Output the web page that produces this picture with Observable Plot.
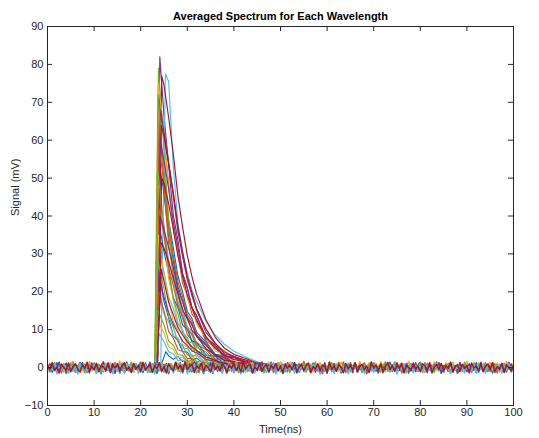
<!DOCTYPE html>
<html>
<head>
<meta charset="utf-8">
<script src="https://cdn.jsdelivr.net/npm/d3@7"></script>
<script src="https://cdn.jsdelivr.net/npm/@observablehq/plot@0.6"></script>
<style>
  html, body { margin: 0; padding: 0; background: #fff; }
  #chart { width: 539px; height: 438px; }
</style>
</head>
<body>
<div id="chart"></div>
<script>
// ---- Labels & ticks ----
const title = "Averaged Spectrum for Each Wavelength";
const xLabel = "Time(ns)";
const yLabel = "Signal (mV)";
const xTicks = [0, 10, 20, 30, 40, 50, 60, 70, 80, 90, 100];
const yTicks = [-10, 0, 10, 20, 30, 40, 50, 60, 70, 80, 90];
const colors = ["#0072BD", "#D95319", "#EDB120", "#7E2F8E", "#77AC30", "#4DBEEE", "#A2142F"];

// ---- Pulse traces (one per wavelength) ----
const baseline = 0;
const onsets = [23.2,23.2,23.3,23.3,23.1,24.3,23.5, 23.2,23.3,23.1,23.4,23.0,23.2,23.5, 23.2,23.2,23.1,23.3,23.0,23.3,23.6,
                23.3,23.2,23.1,23.4,23.0,23.4,23.6, 24.2,23.2,23.1,23.4,23.0,23.3,23.5];
const peakTimes = [24.0,23.9,24.2,24.1,23.8,25.3,24.5, 23.9,24.0,23.8,24.3,23.7,23.9,24.4, 23.9,24.0,23.8,24.2,23.7,24.0,24.5,
                   24.0,23.9,23.8,24.2,23.7,24.1,24.4, 25.4,23.9,23.8,24.3,23.7,24.0,24.4];
const peakValues = [62,74,70,82,79,77.5,77, 55,66,75,68,72,45,64, 38,58,48,60,52,30,50,
                    25,42,35,40,28,18,33, 4.2,20,12,22,15,9,26];
const decayTimes = [25, 26, 27, 28, 29, 30, 31, 32, 34, 36, 38, 40, 43, 46, 50];
const decayValues = [
  [51.5,38.9,31.6,24.1,19.9,14.8,13.0,9.3,6.8,3.5,3.1,1.2,1.4,-0.2,0.6],
  [60.1,48.2,36.4,30.3,22.2,19.1,14.1,12.5,7.0,5.4,2.4,2.7,0.6,1.1,-0.3],
  [63.6,53.9,46.2,35.7,30.1,23.1,19.6,14.8,10.4,5.7,4.5,2.2,2.0,0.3,0.9],
  [66.5,53.2,40.3,33.5,24.8,21.2,15.7,13.8,7.6,5.9,2.7,2.9,0.7,1.2,0.1],
  [57.5,38.8,29.0,19.9,15.6,10.5,8.5,5.3,4.1,1.5,1.7,0.3,0.8,-0.3,0.4],
  [null,75.5,53.0,38.0,30.5,25.0,20.5,17.5,12.2,8.6,6.1,4.3,2.6,1.0,0.7],
  [74.5,66.0,56.3,45.1,37.0,29.6,24.0,19.4,12.6,8.0,5.1,3.5,2.2,0.7,0.6],
  [45.8,34.6,28.1,21.3,17.6,13.1,11.6,8.2,5.9,3.0,2.7,1.0,1.3,0.2,-0.4],
  [48.1,32.4,24.4,16.6,13.1,8.7,7.2,4.4,3.5,1.2,1.5,0.2,0.9,-0.1,0.5],
  [62.2,47.3,38.1,29.4,23.9,18.2,15.7,11.4,8.1,4.3,3.6,1.6,1.5,0.1,0.4],
  [62.0,54.0,45.1,36.0,29.2,23.3,18.9,15.3,9.3,6.4,3.6,3.0,1.3,1.1,0.2],
  [51.2,36.6,25.3,19.3,13.1,10.7,6.6,6.0,2.7,2.3,0.6,1.2,0.2,0.5,-0.3],
  [37.5,28.2,23.1,17.4,14.6,10.7,9.6,6.6,5.1,2.4,2.3,0.8,1.0,0.4,0.1],
  [61.0,53.8,46.1,37.2,30.5,24.0,19.8,15.6,10.2,6.4,4.1,2.9,1.8,0.6,0.5],
  [30.6,24.9,18.4,15.8,11.2,10.1,7.0,6.7,3.3,3.0,1.0,1.6,0.4,0.8,-0.3],
  [48.2,36.5,29.6,22.6,18.6,13.9,12.2,8.7,6.3,3.2,2.9,1.1,1.3,0.2,0.5],
  [35.2,23.4,17.9,11.9,9.7,6.1,5.4,3.0,2.7,0.7,1.2,0.1,0.6,-0.2,0.3],
  [54.5,47.2,38.4,31.8,24.6,20.9,15.8,13.6,8.0,5.8,3.0,2.7,1.0,1.0,-0.1],
  [36.8,26.6,18.1,14.1,9.3,7.9,4.6,4.5,1.8,1.8,0.3,0.7,-0.2,0.4,0.1],
  [25.2,18.6,15.6,11.4,9.9,6.9,6.6,4.2,3.6,1.4,1.8,0.3,0.9,-0.3,0.2],
  [48.6,43.2,36.5,29.4,24.1,19.2,15.8,12.4,8.2,5.0,3.3,2.1,1.5,0.3,0.5],
  [17.4,13.1,8.4,7.1,4.2,4.1,1.9,2.5,0.6,1.1,-0.2,0.5,0.1,-0.3,0.2],
  [35.0,26.3,21.6,16.2,13.6,9.9,9.0,6.1,4.8,2.1,2.3,0.6,1.1,0.2,-0.2],
  [24.6,18.1,12.0,9.7,6.1,5.5,2.9,3.2,1.0,1.4,0.2,0.6,-0.3,0.3,0.1],
  [36.5,31.6,26.5,20.5,17.3,13.2,11.2,8.5,6.0,3.3,2.6,1.2,1.2,0.2,0.4],
  [20.8,13.4,10.7,6.7,5.9,3.3,3.4,1.5,1.8,0.2,0.8,-0.1,0.4,0.0,0.2],
  [14.2,12.1,8.4,7.8,5.0,5.1,3.0,3.5,1.2,1.7,0.2,0.9,0.1,0.3,-0.2],
  [31.5,27.9,23.6,19.4,15.2,12.8,9.9,8.3,5.0,3.4,1.9,1.6,0.5,0.6,0.1],
  [null,3.1,2.2,2.9,1.6,1.9,0.7,1.2,0.3,0.8,-0.2,0.4,0.0,0.3,-0.1],
  [14.9,9.5,7.8,4.7,4.3,2.3,2.5,1.0,1.3,0.1,0.6,-0.2,0.3,0.1,0.0],
  [9.1,5.5,4.8,2.6,2.8,1.2,1.6,0.4,0.7,-0.1,0.3,0.0,0.2,-0.1,0.0],
  [18.6,14.6,11.4,9.2,7.0,5.8,4.4,3.9,2.2,1.6,0.8,0.7,0.2,0.3,0.0],
  [11.3,7.0,5.9,3.4,3.3,1.6,1.9,0.6,0.9,0.1,0.4,-0.1,0.2,0.0,0.0],
  [6.8,4.2,3.6,1.9,2.0,0.8,1.1,0.3,0.5,-0.1,0.3,0.0,0.1,0.0,0.0],
  [22.8,17.2,13.9,10.6,8.6,6.8,5.5,4.5,2.8,1.9,1.1,0.9,0.3,0.4,0.0]
];

// ---- Baseline noise band (0.5 ns samples), hand-estimated ----
const noiseTimes = d3.range(0, 100.25, 0.5);
const noiseBlue = [0.3,-1.1,0.8,-0.4,1.3,-0.9,0.1,1.0,-1.5,0.6,-0.2,0.9,-1.2,0.4,1.4,-0.7,0.2,-1.3,0.7,-0.1,
1.1,-0.8,0.5,-1.6,0.9,0.0,-0.6,1.2,-1.0,0.3,0.8,-1.4,0.6,-0.3,1.5,-0.8,0.2,-1.1,1.0,-0.5,
0.4,-1.3,1.2,-0.2,0.7,-0.9,1.3,-1.5,0.1,0.9,-0.6,1.1,-1.2,0.5,-0.1,1.4,-0.9,0.3,-1.4,0.8,
-0.3,1.0,-1.1,0.6,1.2,-0.7,0.2,-1.6,0.9,-0.4,1.3,-0.8,0.4,-1.0,1.1,-0.2,0.6,-1.3,0.8,0.1,
-0.9,1.5,-0.5,0.3,-1.2,0.7,-0.1,1.0,-1.4,0.5,1.2,-0.6,0.2,-1.1,0.9,-0.3,1.4,-1.0,0.4,-0.7,
1.1,-1.5,0.6,0.0,-0.8,1.3,-0.4,0.8,-1.2,0.3,1.0,-0.9,0.5,-1.3,1.2,-0.2,0.7,-1.1,0.2,0.9,
-0.6,1.4,-1.0,0.4,-0.3,1.1,-1.4,0.6,0.1,-0.8,1.3,-0.5,0.9,-1.2,0.3,-0.1,1.0,-1.6,0.7,-0.4,
1.2,-0.9,0.2,1.0,-1.3,0.5,-0.6,1.4,-0.2,0.8,-1.1,0.3,1.1,-0.7,0.4,-1.4,0.9,-0.3,1.3,-1.0,
0.6,0.0,-1.2,1.1,-0.5,0.7,-0.9,1.5,-0.4,0.2,-1.3,0.8,-0.1,1.0,-0.8,0.5,-1.5,1.2,-0.6,0.3,
-1.0,0.9,0.1,-0.7,1.3,-1.2,0.4,-0.2,1.1,-0.9,0.6,-1.4,0.8,0.2,-0.5,1.0,-1.1,0.3,1.4,-0.8,0.5];
const noiseOrange = [-0.7,0.9,-0.2,1.3,-1.0,0.4,-1.4,0.8,0.1,-0.6,1.2,-0.9,0.5,-1.3,1.0,-0.1,0.7,-1.1,1.4,-0.4,
0.2,-1.5,0.9,-0.3,1.1,-0.8,0.6,-1.2,0.3,1.3,-0.7,0.0,1.0,-1.4,0.5,-0.2,1.2,-1.0,0.7,-0.5,
1.5,-0.9,0.2,-1.3,0.8,-0.4,1.1,-0.6,0.4,-1.1,0.9,0.1,-1.6,1.0,-0.3,0.6,-0.8,1.3,-1.2,0.3,
0.7,-1.0,1.4,-0.5,0.2,-1.3,0.9,-0.1,1.1,-0.7,0.5,-1.4,1.2,-0.2,0.8,-1.1,0.4,-0.6,1.3,-0.9,
0.1,1.0,-1.2,0.6,-0.4,1.5,-0.8,0.3,-1.5,0.9,-0.1,1.2,-1.0,0.5,0.2,-0.9,1.1,-1.3,0.7,-0.3,
1.4,-0.6,0.0,-1.1,0.8,-0.5,1.3,-1.4,0.4,0.9,-0.7,1.0,-0.2,-1.2,0.6,1.1,-0.9,0.3,-1.6,0.8,
-0.4,1.2,-1.0,0.5,-0.1,1.4,-0.8,0.2,-1.3,0.9,0.4,-0.6,1.1,-1.1,0.7,-0.3,1.3,-1.5,0.5,0.1,
-0.8,1.0,-1.2,0.6,-0.2,1.5,-0.9,0.3,-1.0,1.2,-0.5,0.8,-1.4,0.4,0.0,-0.7,1.1,-1.1,0.9,-0.3,
0.6,-1.3,1.3,-0.6,0.2,-1.0,0.9,-0.4,1.2,-1.2,0.5,0.1,-0.9,1.4,-0.7,0.3,-1.5,1.0,-0.2,0.7,
-1.1,0.8,-0.5,1.1,-1.3,0.4,0.2,-0.8,1.3,-1.0,0.6,-0.3,1.0,-1.4,0.9,-0.1,0.5,-1.2,1.2,-0.6,0.3];
const noiseYellow = [0.9,-0.4,1.4,0.2,-0.8,1.1,0.5,-1.2,1.3,-0.1,0.7,1.6,-0.6,0.3,1.0,-1.0,0.8,0.1,1.5,-0.5,
0.4,1.2,-0.9,0.6,1.4,-0.3,0.0,1.1,-1.3,0.9,0.5,1.7,-0.7,0.2,1.0,-0.4,1.3,-1.1,0.7,0.3,
1.5,-0.6,0.8,-0.2,1.2,0.4,-1.0,1.0,0.1,1.4,-0.8,0.6,1.1,-0.5,0.3,1.6,-0.9,0.9,-0.1,1.3,
0.2,-1.2,1.0,0.7,-0.4,1.5,-0.7,0.4,1.2,-0.2,0.8,-1.1,1.4,0.1,-0.6,1.1,0.5,-0.9,1.3,0.3,
-0.3,1.6,-0.8,0.6,1.0,-1.3,0.9,0.2,1.4,-0.5,0.7,-0.1,1.2,-1.0,0.5,1.5,-0.4,0.3,1.1,-0.7,
1.3,0.0,-1.1,0.8,1.4,-0.3,0.6,-0.9,1.2,0.4,1.7,-0.6,0.1,1.0,-1.2,0.9,0.3,1.3,-0.5,0.7,
-0.2,1.5,-0.8,0.5,1.1,-1.0,1.4,0.2,-0.4,1.2,0.6,-1.3,1.0,0.0,1.6,-0.7,0.8,-0.1,1.3,-0.9,
0.4,1.1,-0.5,1.5,0.2,-1.1,0.9,0.6,-0.3,1.4,-0.8,0.7,1.2,-0.2,0.3,1.6,-1.0,1.0,0.1,-0.6,
1.3,0.5,-1.2,0.8,1.1,-0.4,1.5,-0.7,0.4,0.9,-0.1,1.2,-1.1,0.6,1.4,0.0,-0.8,1.1,0.3,-0.5,
1.6,-0.9,0.7,1.0,-0.3,1.3,0.2,-1.0,0.9,0.5,1.4,-0.6,0.1,1.2,-1.2,0.8,0.4,1.5,-0.4,0.6,1.0];
const noisePurple = [-0.3,1.0,-1.2,0.6,-0.5,1.4,-0.8,0.2,1.1,-1.3,0.7,-0.1,0.9,-1.0,0.4,1.3,-0.7,0.0,-1.4,1.2,
-0.4,0.8,-1.1,0.5,1.5,-0.9,0.3,-0.6,1.1,-1.5,0.9,0.1,-0.8,1.3,-0.2,0.6,-1.2,1.0,-0.5,0.4,
1.2,-1.0,0.7,-0.3,1.4,-1.3,0.2,0.8,-0.7,1.1,-0.1,0.5,-1.4,0.9,-0.6,1.3,0.3,-1.1,0.7,-0.2,
1.0,-0.9,0.4,1.5,-1.2,0.6,-0.4,1.2,-0.8,0.1,0.9,-1.5,1.1,-0.3,0.5,-1.0,1.4,-0.6,0.2,0.8,
-1.3,1.0,-0.1,0.6,-0.9,1.3,-0.5,0.3,-1.2,1.1,0.4,-0.7,1.5,-1.1,0.2,0.7,-0.4,1.2,-1.4,0.5,
-0.2,0.9,-1.0,1.3,-0.6,0.1,1.1,-1.3,0.8,-0.3,1.4,-0.9,0.4,-0.5,1.0,-1.2,0.6,0.2,-0.8,1.3,
-1.5,0.7,-0.1,1.1,-0.7,0.5,-1.1,1.4,-0.4,0.3,0.9,-1.3,1.2,-0.2,0.6,-1.0,1.0,-0.6,0.1,1.5,
-0.9,0.4,-1.4,0.8,0.2,-0.5,1.2,-1.1,0.7,-0.3,1.3,-0.8,0.5,-1.2,1.1,0.0,-0.6,0.9,-1.0,0.6,
1.4,-0.4,0.2,-1.3,1.0,-0.7,0.8,-0.1,1.2,-1.5,0.3,0.7,-0.9,1.1,-0.2,0.5,-1.1,1.3,-0.5,0.4,
-0.8,1.0,-1.2,0.6,0.1,-0.4,1.4,-1.0,0.3,0.9,-0.7,1.2,-1.3,0.5,-0.1,1.1,-0.9,0.8,-0.3,1.0,-0.6];
const noiseGreen = [0.7,-0.9,0.2,1.2,-0.5,-1.3,0.8,0.3,-0.7,1.0,-0.2,1.4,-1.1,0.5,-0.4,0.9,-1.4,0.6,0.1,-0.8,
1.3,-0.3,0.7,-1.2,0.4,1.1,-0.6,0.0,-1.0,0.9,0.5,-1.5,1.2,-0.1,0.6,-0.9,1.4,-0.4,0.3,-1.1,
0.8,1.0,-0.7,0.2,-1.3,1.1,-0.2,0.6,-0.8,1.3,-0.5,0.4,-1.2,0.9,0.1,-0.6,1.2,-1.0,0.5,-0.3,
1.4,-0.9,0.3,0.7,-1.4,0.8,-0.1,1.0,-0.7,0.4,-1.1,1.3,-0.4,0.2,0.9,-1.2,0.6,-0.5,1.1,-0.8,
0.0,1.2,-1.3,0.5,-0.2,0.8,-1.0,1.4,-0.6,0.3,-0.9,1.0,0.2,-1.4,0.7,-0.3,1.1,-0.7,0.4,1.3,
-1.1,0.6,-0.4,0.9,-1.3,0.2,1.0,-0.8,0.5,-0.1,1.2,-1.2,0.7,0.3,-0.6,1.4,-0.9,0.1,0.8,-1.0,
0.4,-0.5,1.3,-1.4,0.6,0.2,-0.7,1.1,-0.3,0.9,-1.1,0.5,1.2,-0.6,0.0,-1.3,1.0,-0.2,0.7,-0.9,
1.3,-0.4,0.3,-1.2,0.8,1.1,-0.8,0.2,-0.5,1.4,-1.0,0.6,-0.1,0.9,-1.4,0.4,1.0,-0.7,0.3,-0.3,
1.2,-1.1,0.5,0.8,-0.6,0.1,-1.3,1.3,-0.2,0.7,-0.9,0.4,1.1,-1.2,0.6,-0.4,0.9,0.2,-1.0,1.4,
-0.5,0.3,-0.8,1.2,-1.4,0.7,0.0,1.0,-0.6,0.5,-1.1,1.3,-0.3,0.8,-0.9,0.2,1.1,-1.2,0.6,-0.1,0.4];
const noiseLightBlue = [-1.1,0.4,-0.7,0.9,-1.6,0.2,-0.8,1.1,-0.3,-1.4,0.5,-0.9,0.3,-1.7,0.8,-0.2,1.0,-1.1,0.1,-0.6,
0.7,-1.5,0.3,-0.4,-1.2,0.9,-0.7,0.2,-1.6,0.6,-1.0,1.1,-0.4,-1.3,0.3,0.8,-0.9,-0.2,1.0,-1.5,
0.2,-0.8,0.7,-1.2,-0.3,0.9,-1.7,0.5,-0.6,1.1,-1.3,0.1,-0.9,0.6,-1.4,0.4,0.8,-1.0,-0.5,0.7,
-1.6,0.3,-0.7,1.0,-1.1,0.0,0.6,-1.4,0.5,-0.9,0.2,-1.3,0.9,-0.6,-0.1,-1.5,0.7,0.2,-1.0,0.8,
-1.2,0.4,-0.4,-1.7,0.8,-0.8,0.3,-1.1,0.5,-1.4,0.7,-0.5,-1.0,0.9,-1.3,0.2,-0.7,1.1,-1.6,0.4,
-0.8,0.6,-1.2,0.1,-0.4,1.0,-1.5,0.3,-0.9,0.8,-1.1,-0.2,0.5,-1.3,0.9,-0.6,0.2,-1.7,0.7,-0.3,
-1.0,1.1,-0.5,-1.4,0.4,0.7,-1.1,-0.1,0.9,-1.6,0.3,-0.8,0.6,-1.2,-0.4,0.8,-1.5,0.5,-0.7,1.0,
-1.3,0.2,-0.9,0.5,-1.4,0.4,0.9,-1.0,-0.3,0.6,-1.7,0.3,-0.6,1.1,-1.1,0.0,0.7,-1.3,0.4,-0.9,
0.3,-1.2,0.8,-0.5,-0.2,-1.5,0.6,0.1,-1.0,0.9,-1.2,0.5,-0.4,-1.6,0.8,-0.7,0.3,-1.1,0.4,-1.4,
0.7,-0.3,-0.9,0.9,-1.3,0.2,-0.6,1.0,-1.5,0.4,-0.8,0.6,-1.1,-0.1,0.8,-1.4,0.3,-0.5,0.9,-1.2,-0.6];
const noiseDarkRed = [0.5,-0.5,1.3,-0.8,0.2,-1.4,0.9,0.0,-0.7,1.2,-1.1,0.3,1.0,-0.4,-1.2,0.8,-0.2,1.4,-0.9,0.3,
-0.6,1.1,-1.0,0.4,0.2,-0.8,1.3,-1.3,0.7,-0.1,1.0,-0.9,0.5,1.2,-0.7,0.1,-1.3,1.1,-0.4,0.6,
-1.1,1.4,-0.6,0.2,0.9,-1.2,0.4,-0.3,1.3,-0.9,0.2,-1.4,1.0,-0.1,-0.8,1.2,-0.3,0.7,-1.0,1.5,
-0.5,0.3,0.9,-1.3,0.5,-0.2,1.1,-1.0,0.6,0.0,-1.2,1.3,-0.5,0.4,-0.9,1.0,0.2,-1.4,0.7,-0.2,
1.1,-0.8,0.3,-1.1,1.4,-0.4,0.5,0.9,-1.3,0.2,-0.7,1.2,-1.0,0.3,0.8,-1.2,0.6,-0.3,1.1,-0.9,
0.4,-1.5,1.0,-0.2,0.7,-0.6,1.3,-1.1,0.1,0.9,-0.8,0.5,1.2,-1.3,0.3,-0.4,1.0,-0.9,0.6,0.2,
-1.2,1.4,-0.5,0.4,-1.0,0.8,0.1,-1.4,1.1,-0.3,0.6,-0.7,1.3,-1.1,0.2,0.9,-0.6,0.4,-1.3,1.2,
-0.1,0.7,-0.9,1.0,-1.2,0.3,1.3,-0.5,0.5,-1.0,0.8,-0.2,1.1,-1.4,0.6,0.0,-0.8,1.2,-0.4,0.3,
-1.1,1.0,0.4,-0.7,1.3,-1.3,0.2,0.8,-0.5,1.1,-0.9,0.5,-0.2,1.4,-1.2,0.3,0.7,-1.0,0.9,-0.3,
0.6,-1.4,1.2,-0.1,0.4,-0.8,1.0,-1.1,0.5,0.9,-0.6,1.3,-1.0,0.2,-0.4,1.1,-1.3,0.7,0.1,-0.9,0.5];
const noiseSeries = [noiseBlue, noiseOrange, noiseYellow, noisePurple, noiseGreen, noiseLightBlue, noiseDarkRed];

// ---- Build tables ----
const traceRows = [];
peakValues.forEach((pv, i) => {
  traceRows.push({trace: i, t: onsets[i], v: baseline});
  traceRows.push({trace: i, t: peakTimes[i], v: pv});
  decayTimes.forEach((dt, j) => {
    const val = decayValues[i][j];
    if (val != null && dt > peakTimes[i]) traceRows.push({trace: i, t: dt, v: val});
  });
});
const noiseRows = [];
noiseSeries.forEach((arr, k) => {
  arr.forEach((v, j) => { if (j < noiseTimes.length) noiseRows.push({series: k, t: noiseTimes[j], v}); });
});

const frameH = 438 - 26 - 33;
const frameW = 539 - 47 - 26;
const axisColor = "#262626";

const chart = Plot.plot({
  width: 539,
  height: 438,
  marginLeft: 47,
  marginRight: 26,
  marginTop: 26,
  marginBottom: 33,
  style: {fontFamily: "'Liberation Sans', Arial, Helvetica, sans-serif", fontSize: "11px", color: axisColor, background: "#fff"},
  x: {domain: [0, 100]},
  y: {domain: [-10, 90]},
  marks: [
    Plot.line(traceRows, {x: "t", y: "v", z: "trace", stroke: d => colors[d.trace % 7], strokeWidth: 1.15, clip: true}),
    Plot.line(noiseRows, {x: "t", y: "v", z: "series", stroke: d => colors[d.series % 7], strokeWidth: 1.5, clip: true}),
    Plot.frame({stroke: axisColor, strokeWidth: 1}),
    Plot.tickX(xTicks, {x: d => d, stroke: axisColor, insetTop: frameH - 5}),
    Plot.tickX(xTicks, {x: d => d, stroke: axisColor, insetBottom: frameH - 5}),
    Plot.tickY(yTicks, {y: d => d, stroke: axisColor, insetRight: frameW - 5}),
    Plot.tickY(yTicks, {y: d => d, stroke: axisColor, insetLeft: frameW - 5}),
    Plot.axisX(xTicks, {anchor: "bottom", tickSize: 0, tickPadding: 3, label: null}),
    Plot.axisY(yTicks, {anchor: "left", tickSize: 0, tickPadding: 4, label: null}),
    Plot.text([title], {frameAnchor: "top", dy: -14, fontWeight: "bold", fontSize: 11, fill: "#000"}),
    Plot.text([xLabel], {frameAnchor: "bottom", dy: 27, fontSize: 11, fill: axisColor}),
    Plot.text([yLabel], {frameAnchor: "left", dx: -32, rotate: -90, fontSize: 11, fill: axisColor})
  ]
});
document.getElementById("chart").appendChild(chart);
</script>
</body>
</html>
